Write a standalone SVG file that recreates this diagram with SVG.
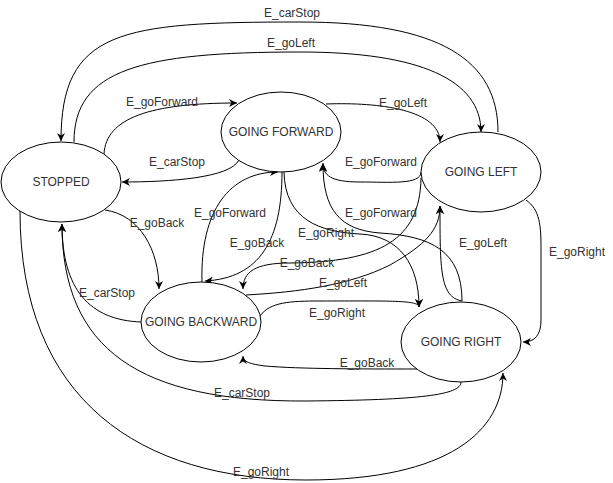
<svg xmlns="http://www.w3.org/2000/svg" width="613" height="483" viewBox="0 0 613 483">
<style>
.n ellipse{fill:#fff;stroke:#000;stroke-width:1}
text{font-family:"Liberation Sans",Arial,sans-serif;font-size:12px;fill:#333;text-anchor:middle}
.e path{fill:none;stroke:#000;stroke-width:1;marker-end:url(#arr)}
</style>
<defs>
<marker id="arr" viewBox="0 0 10 10" refX="10" refY="5" markerWidth="8" markerHeight="8" orient="auto" markerUnits="userSpaceOnUse">
<path d="M0,0 L10,5 L0,10 L3,5 z" fill="#000"/>
</marker>
</defs>
<rect width="613" height="483" fill="#fff"/>
<g class="e" id="connectors">
<path d="M498,132 C498,60 440,22 300,22 C120,22 61,30 61,141"/>
<path d="M74,142 C74,70 140,52 300,52 C420,52 481,80 481,132"/>
<path d="M104,154 C106,118 150,103 237,103"/>
<path d="M239,160 C230,178 170,182 122,182"/>
<path d="M326,104 C380,102 440,110 440,142"/>
<path d="M421,172 C421,185 390,182 360,182 C330,182 323,175 323,163"/>
<path d="M105,210 C140,215 159,250 159,289"/>
<path d="M202,282 C200,210 230,172 278,172"/>
<path d="M462,301 C462,250 430,236 380,233 C340,230 323,210 323,164"/>
<path d="M282,172 C282,240 260,278 205,281"/>
<path d="M284,172 C285,220 320,232 360,234 C400,236 419,265 419,307"/>
<path d="M421,178 C420,240 380,262 290,263 C255,263 243,272 243,289"/>
<path d="M462,301 C440,297 440,270 440,206"/>
<path d="M526,200 C540,210 541,225 541,250 L541,320 C541,335 535,342 523,342"/>
<path d="M246,295 C300,292 350,285 390,265 C425,245 440,230 440,206"/>
<path d="M141,322 C90,320 62,290 62,224"/>
<path d="M260,316 C270,302 290,301 320,301 C390,301 419,300 419,307"/>
<path d="M417,369 C360,369 300,369 265,366 C250,364 243,362 243,356"/>
<path d="M461,382 C461,395 420,400 306,401 C140,402 62,350 62,224"/>
<path d="M20,211 C20,400 140,480 306,480 C450,480 503,430 503,373"/>
</g>
<g id="labels">
<text x="292" y="17">E_carStop</text>
<text x="291" y="47">E_goLeft</text>
<text x="162" y="106">E_goForward</text>
<text x="403" y="107">E_goLeft</text>
<text x="177" y="166">E_carStop</text>
<text x="381" y="166">E_goForward</text>
<text x="157" y="227">E_goBack</text>
<text x="230" y="217">E_goForward</text>
<text x="381" y="217">E_goForward</text>
<text x="257" y="247">E_goBack</text>
<text x="326" y="237">E_goRight</text>
<text x="307" y="267">E_goBack</text>
<text x="483" y="247">E_goLeft</text>
<text x="577" y="256">E_goRight</text>
<text x="343" y="287">E_goLeft</text>
<text x="107" y="297">E_carStop</text>
<text x="337" y="317">E_goRight</text>
<text x="367" y="367">E_goBack</text>
<text x="242" y="397">E_carStop</text>
<text x="261" y="476">E_goRight</text>
</g>
<g class="n" id="stopped"><ellipse cx="61" cy="182" rx="60" ry="40"/><text x="61" y="186">STOPPED</text></g>
<g class="n" id="going-forward"><ellipse cx="281" cy="132" rx="60" ry="40"/><text x="281" y="136">GOING FORWARD</text></g>
<g class="n" id="going-left"><ellipse cx="481" cy="172" rx="60" ry="40"/><text x="481" y="176">GOING LEFT</text></g>
<g class="n" id="going-backward"><ellipse cx="201" cy="322" rx="60" ry="40"/><text x="201" y="326">GOING BACKWARD</text></g>
<g class="n" id="going-right"><ellipse cx="461" cy="342" rx="60" ry="40"/><text x="461" y="346">GOING RIGHT</text></g>
</svg>
